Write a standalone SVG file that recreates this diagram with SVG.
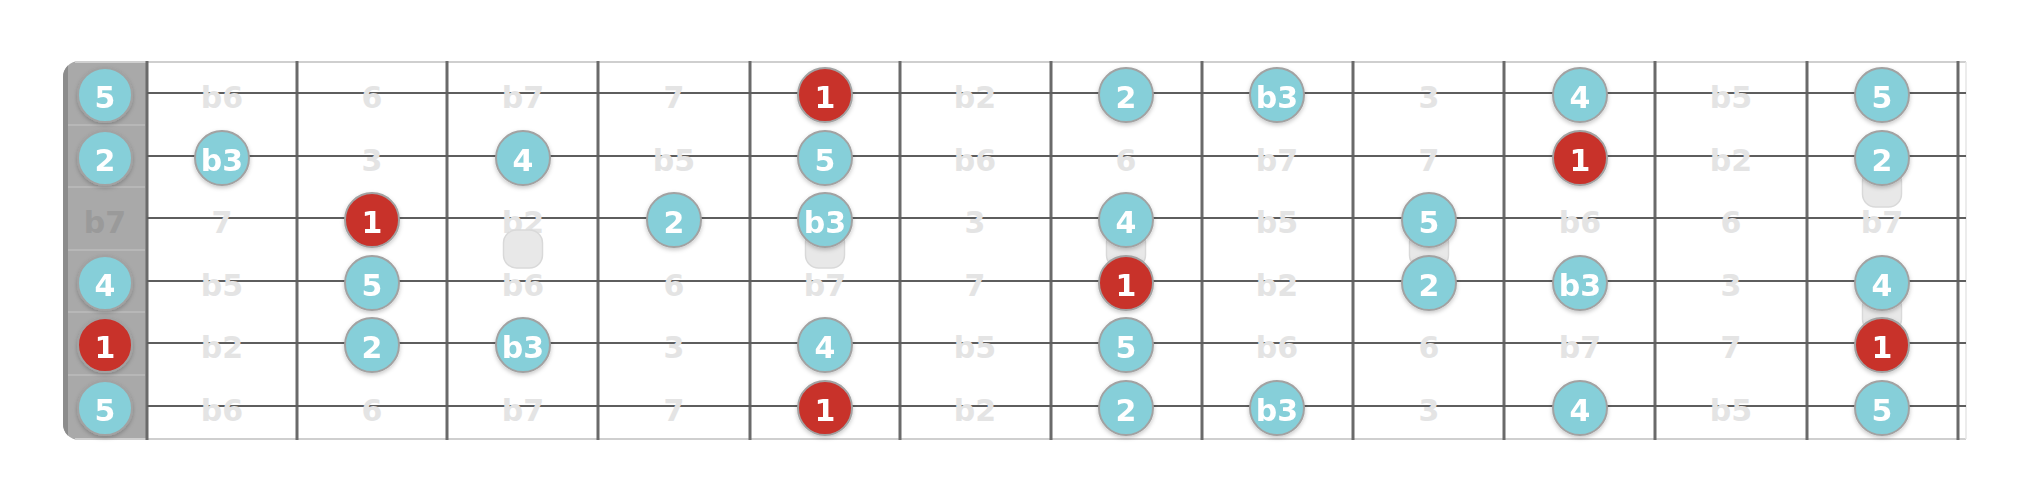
<svg xmlns="http://www.w3.org/2000/svg" width="2022" height="497" viewBox="0 0 2022 497">
<style>
.fret{stroke:#6a6a6a;stroke-width:3}
.str{stroke:#5e5e5e;stroke-width:2.2}
.sep{stroke:#bcbcbc;stroke-width:1.5}
.ghost{font-family:"DejaVu Sans",sans-serif;font-weight:bold;font-size:30px;fill:#e4e4e4;text-anchor:middle}
.nutghost{font-family:"DejaVu Sans",sans-serif;font-weight:bold;font-size:30px;fill:#9a9a9a;text-anchor:middle}
.lbl{font-family:"DejaVu Sans",sans-serif;font-weight:bold;font-size:30px;fill:#ffffff;text-anchor:middle}
.n{fill:#86cfd9;stroke:#a2a2a2;stroke-width:2}
.r{fill:#c8302a;stroke:#a2a2a2;stroke-width:2}
.ph{fill:#e8e8e8;stroke:#d9d9d9;stroke-width:1.5}
</style>
<defs>
<filter id="sh" x="-30%" y="-30%" width="160%" height="170%">
<feDropShadow dx="0" dy="2" stdDeviation="2" flood-color="#000" flood-opacity="0.22"/>
</filter>
<clipPath id="boardclip"><rect x="63" y="61" width="1903" height="379" rx="16"/></clipPath>
</defs>
<rect width="2022" height="497" fill="#ffffff"/>
<g id="board">
<g clip-path="url(#boardclip)">
<rect x="63" y="61" width="1903" height="379" fill="#ffffff"/>
<rect x="63" y="61" width="84" height="379" fill="#a9a9a9"/>
<rect x="63" y="61" width="5" height="379" fill="#8c8c8c"/>
</g>
<line x1="75" y1="62" x2="1966" y2="62" stroke="#cfcfcf" stroke-width="2"/>
<line x1="75" y1="439" x2="1966" y2="439" stroke="#cfcfcf" stroke-width="2"/>
<line x1="1966" y1="62" x2="1966" y2="439" stroke="#e6e6e6" stroke-width="1.5"/>
<line class="sep" x1="68" y1="125" x2="145" y2="125"/>
<line class="sep" x1="68" y1="187" x2="145" y2="187"/>
<line class="sep" x1="68" y1="250" x2="145" y2="250"/>
<line class="sep" x1="68" y1="312" x2="145" y2="312"/>
<line class="sep" x1="68" y1="375" x2="145" y2="375"/>
<line class="fret" x1="147" y1="61" x2="147" y2="440" stroke="#7a7a7a"/>
<line class="fret" x1="297" y1="61" x2="297" y2="440"/>
<line class="fret" x1="447" y1="61" x2="447" y2="440"/>
<line class="fret" x1="598" y1="61" x2="598" y2="440"/>
<line class="fret" x1="750" y1="61" x2="750" y2="440"/>
<line class="fret" x1="900" y1="61" x2="900" y2="440"/>
<line class="fret" x1="1051" y1="61" x2="1051" y2="440"/>
<line class="fret" x1="1202" y1="61" x2="1202" y2="440"/>
<line class="fret" x1="1353" y1="61" x2="1353" y2="440"/>
<line class="fret" x1="1504" y1="61" x2="1504" y2="440"/>
<line class="fret" x1="1655" y1="61" x2="1655" y2="440"/>
<line class="fret" x1="1807" y1="61" x2="1807" y2="440"/>
<line class="fret" x1="1958" y1="61" x2="1958" y2="440"/>
<line class="str" x1="147" y1="93" x2="1966" y2="93"/>
<line class="str" x1="147" y1="156" x2="1966" y2="156"/>
<line class="str" x1="147" y1="218" x2="1966" y2="218"/>
<line class="str" x1="147" y1="281" x2="1966" y2="281"/>
<line class="str" x1="147" y1="343" x2="1966" y2="343"/>
<line class="str" x1="147" y1="406" x2="1966" y2="406"/>
</g>
<g id="ghost-labels">
<text class="ghost" x="222" y="108">b6</text><text class="ghost" x="372" y="108">6</text><text class="ghost" x="523" y="108">b7</text><text class="ghost" x="674" y="108">7</text><text class="ghost" x="975" y="108">b2</text><text class="ghost" x="1429" y="108">3</text><text class="ghost" x="1731" y="108">b5</text>
<text class="ghost" x="372" y="171">3</text><text class="ghost" x="674" y="171">b5</text><text class="ghost" x="975" y="171">b6</text><text class="ghost" x="1126" y="171">6</text><text class="ghost" x="1277" y="171">b7</text><text class="ghost" x="1429" y="171">7</text><text class="ghost" x="1731" y="171">b2</text>
<text class="nutghost" x="105" y="233">b7</text><text class="ghost" x="222" y="233">7</text><text class="ghost" x="523" y="233">b2</text><text class="ghost" x="975" y="233">3</text><text class="ghost" x="1277" y="233">b5</text><text class="ghost" x="1580" y="233">b6</text><text class="ghost" x="1731" y="233">6</text><text class="ghost" x="1882" y="233">b7</text>
<text class="ghost" x="222" y="296">b5</text><text class="ghost" x="523" y="296">b6</text><text class="ghost" x="674" y="296">6</text><text class="ghost" x="825" y="296">b7</text><text class="ghost" x="975" y="296">7</text><text class="ghost" x="1277" y="296">b2</text><text class="ghost" x="1731" y="296">3</text>
<text class="ghost" x="222" y="358">b2</text><text class="ghost" x="674" y="358">3</text><text class="ghost" x="975" y="358">b5</text><text class="ghost" x="1277" y="358">b6</text><text class="ghost" x="1429" y="358">6</text><text class="ghost" x="1580" y="358">b7</text><text class="ghost" x="1731" y="358">7</text>
<text class="ghost" x="222" y="421">b6</text><text class="ghost" x="372" y="421">6</text><text class="ghost" x="523" y="421">b7</text><text class="ghost" x="674" y="421">7</text><text class="ghost" x="975" y="421">b2</text><text class="ghost" x="1429" y="421">3</text><text class="ghost" x="1731" y="421">b5</text>
</g>
<g id="placeholders">
<rect class="ph" x="503.5" y="230" width="39" height="38" rx="13"/>
<rect class="ph" x="805.5" y="230" width="39" height="38" rx="13"/>
<rect class="ph" x="1106.5" y="230" width="39" height="38" rx="13"/>
<rect class="ph" x="1409.5" y="230" width="39" height="38" rx="13"/>
<rect class="ph" x="1862.5" y="169" width="39" height="38" rx="13"/>
<rect class="ph" x="1862.5" y="294" width="39" height="38" rx="13"/>
</g>
<g id="notes" filter="url(#sh)">
<g id="n-s1-0"><circle class="n" cx="105" cy="95" r="27"/><text class="lbl" x="105" y="108">5</text></g>
<g id="n-s1-5"><circle class="r" cx="825" cy="95" r="27"/><text class="lbl" x="825" y="108">1</text></g>
<g id="n-s1-7"><circle class="n" cx="1126" cy="95" r="27"/><text class="lbl" x="1126" y="108">2</text></g>
<g id="n-s1-8"><circle class="n" cx="1277" cy="95" r="27"/><text class="lbl" x="1277" y="108">b3</text></g>
<g id="n-s1-10"><circle class="n" cx="1580" cy="95" r="27"/><text class="lbl" x="1580" y="108">4</text></g>
<g id="n-s1-12"><circle class="n" cx="1882" cy="95" r="27"/><text class="lbl" x="1882" y="108">5</text></g>
<g id="n-s2-0"><circle class="n" cx="105" cy="158" r="27"/><text class="lbl" x="105" y="171">2</text></g>
<g id="n-s2-1"><circle class="n" cx="222" cy="158" r="27"/><text class="lbl" x="222" y="171">b3</text></g>
<g id="n-s2-3"><circle class="n" cx="523" cy="158" r="27"/><text class="lbl" x="523" y="171">4</text></g>
<g id="n-s2-5"><circle class="n" cx="825" cy="158" r="27"/><text class="lbl" x="825" y="171">5</text></g>
<g id="n-s2-10"><circle class="r" cx="1580" cy="158" r="27"/><text class="lbl" x="1580" y="171">1</text></g>
<g id="n-s2-12"><circle class="n" cx="1882" cy="158" r="27"/><text class="lbl" x="1882" y="171">2</text></g>
<g id="n-s3-2"><circle class="r" cx="372" cy="220" r="27"/><text class="lbl" x="372" y="233">1</text></g>
<g id="n-s3-4"><circle class="n" cx="674" cy="220" r="27"/><text class="lbl" x="674" y="233">2</text></g>
<g id="n-s3-5"><circle class="n" cx="825" cy="220" r="27"/><text class="lbl" x="825" y="233">b3</text></g>
<g id="n-s3-7"><circle class="n" cx="1126" cy="220" r="27"/><text class="lbl" x="1126" y="233">4</text></g>
<g id="n-s3-9"><circle class="n" cx="1429" cy="220" r="27"/><text class="lbl" x="1429" y="233">5</text></g>
<g id="n-s4-0"><circle class="n" cx="105" cy="283" r="27"/><text class="lbl" x="105" y="296">4</text></g>
<g id="n-s4-2"><circle class="n" cx="372" cy="283" r="27"/><text class="lbl" x="372" y="296">5</text></g>
<g id="n-s4-7"><circle class="r" cx="1126" cy="283" r="27"/><text class="lbl" x="1126" y="296">1</text></g>
<g id="n-s4-9"><circle class="n" cx="1429" cy="283" r="27"/><text class="lbl" x="1429" y="296">2</text></g>
<g id="n-s4-10"><circle class="n" cx="1580" cy="283" r="27"/><text class="lbl" x="1580" y="296">b3</text></g>
<g id="n-s4-12"><circle class="n" cx="1882" cy="283" r="27"/><text class="lbl" x="1882" y="296">4</text></g>
<g id="n-s5-0"><circle class="r" cx="105" cy="345" r="27"/><text class="lbl" x="105" y="358">1</text></g>
<g id="n-s5-2"><circle class="n" cx="372" cy="345" r="27"/><text class="lbl" x="372" y="358">2</text></g>
<g id="n-s5-3"><circle class="n" cx="523" cy="345" r="27"/><text class="lbl" x="523" y="358">b3</text></g>
<g id="n-s5-5"><circle class="n" cx="825" cy="345" r="27"/><text class="lbl" x="825" y="358">4</text></g>
<g id="n-s5-7"><circle class="n" cx="1126" cy="345" r="27"/><text class="lbl" x="1126" y="358">5</text></g>
<g id="n-s5-12"><circle class="r" cx="1882" cy="345" r="27"/><text class="lbl" x="1882" y="358">1</text></g>
<g id="n-s6-0"><circle class="n" cx="105" cy="408" r="27"/><text class="lbl" x="105" y="421">5</text></g>
<g id="n-s6-5"><circle class="r" cx="825" cy="408" r="27"/><text class="lbl" x="825" y="421">1</text></g>
<g id="n-s6-7"><circle class="n" cx="1126" cy="408" r="27"/><text class="lbl" x="1126" y="421">2</text></g>
<g id="n-s6-8"><circle class="n" cx="1277" cy="408" r="27"/><text class="lbl" x="1277" y="421">b3</text></g>
<g id="n-s6-10"><circle class="n" cx="1580" cy="408" r="27"/><text class="lbl" x="1580" y="421">4</text></g>
<g id="n-s6-12"><circle class="n" cx="1882" cy="408" r="27"/><text class="lbl" x="1882" y="421">5</text></g>
</g>
<g id="connectors"/>
</svg>
